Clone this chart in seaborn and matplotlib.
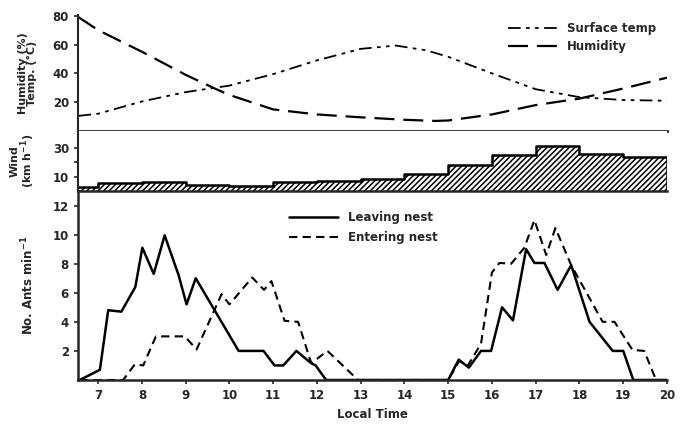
import numpy as np
import pandas as pd
import matplotlib
matplotlib.use("Agg")
import matplotlib.pyplot as plt
import seaborn as sns

# --- data ---
# top panel: surface temperature and humidity vs local time
temp_time = [6.55, 7, 8, 9, 10, 11, 12, 13, 13.8, 14.5, 15, 16, 17, 18, 19, 20]
temp_vals = [10.5, 12, 20.5, 27, 31.5, 39.5, 49, 57, 59.3, 56, 51.5, 40, 29, 23.5, 21.5, 21]
hum_time = [6.55, 7, 8, 9, 9.7, 10, 11, 12, 13, 14, 14.7, 15, 16, 17, 18, 19, 20]
hum_vals = [79, 70, 55, 39, 29, 25, 15, 11.5, 9.5, 7.8, 7, 7.3, 11.5, 18, 22.5, 29.5, 37]

# wind speed, hourly steps (left edge of each step)
wind_edges = [6.54, 7, 8, 9, 10, 11, 12, 13, 14, 15, 16, 17, 18, 19, 20]
wind_vals = [2.5, 5.5, 6.6, 4.3, 3.3, 6.2, 6.9, 8.2, 12.1, 18.1, 25.2, 31.2, 25.7, 24.1]

# ants leaving / entering the nest
leave_time = [6.58, 7.04, 7.23, 7.53, 7.85, 8.01, 8.27, 8.52, 8.84, 9.02, 9.23, 10.21,
              10.78, 11.03, 11.23, 11.53, 11.87, 11.97, 12.21, 15.0, 15.24, 15.47,
              15.75, 15.98, 16.23, 16.48, 16.78, 16.97, 17.2, 17.5, 17.81, 18.23,
              18.76, 19.0, 19.23, 20.0]
leave_vals = [0, 0.7, 4.8, 4.7, 6.4, 9.1, 7.3, 9.95, 7.2, 5.2, 7.0, 2.0,
              2.0, 1.0, 1.0, 2.0, 1.15, 1.0, 0, 0, 1.4, 0.85,
              2.0, 2.0, 5.0, 4.1, 9.0, 8.05, 8.05, 6.2, 7.9, 4.0,
              2.0, 2.0, 0, 0]
enter_time = [6.58, 7.57, 7.84, 8.03, 8.32, 8.98, 9.25, 9.82, 10.0, 10.52, 10.79,
              10.96, 11.26, 11.57, 11.87, 12.24, 12.94, 15.0, 15.25, 15.45, 15.75,
              16.0, 16.17, 16.44, 16.74, 16.97, 17.24, 17.45, 17.81, 18.53, 18.8,
              19.21, 19.48, 19.75, 20.0]
enter_vals = [0, 0, 1.08, 1.0, 3.0, 3.0, 2.1, 5.9, 5.2, 7.05, 6.2,
              6.8, 4.07, 4.0, 1.15, 2.0, 0, 0, 1.3, 1.0, 2.5,
              7.4, 8.05, 8.0, 9.1, 11.0, 8.6, 10.45, 7.9, 4.0, 4.0,
              2.07, 2.0, 0, 0]

sns.set_style("ticks")
plt.rcParams['font.family'] = ['DejaVu Sans']
plt.rcParams['font.weight'] = 'bold'
plt.rcParams['axes.labelweight'] = 'bold'
plt.rcParams['hatch.linewidth'] = 1.1

fig = plt.figure(figsize=(6.82, 4.24), dpi=100)
left, width = 0.1144, 0.8636
ax_top = fig.add_axes([left, 0.691, width, 0.2736])
ax_wind = fig.add_axes([left, 0.5495, width, 0.1415])
ax_ants = fig.add_axes([left, 0.1038, width, 0.4457])
xlim = (6.54, 20.0)
fs = 8.5

# --- top: temperature and humidity ---
sns.lineplot(x=temp_time, y=temp_vals, ax=ax_top, color='black', lw=1.3,
             linestyle=(0, (7, 3, 2, 3, 2, 3)), label='Surface temp')
sns.lineplot(x=hum_time, y=hum_vals, ax=ax_top, color='black', lw=1.6,
             linestyle=(0, (9, 4)), label='Humidity')
ax_top.set_xlim(xlim)
ax_top.set_ylim(0, 80.5)
ax_top.set_yticks([20, 40, 60, 80])
ax_top.set_xticks([])
ax_top.set_ylabel('Humidity (%)\nTemp. (°C)', fontsize=fs - 0.5, linespacing=0.9)
ax_top.yaxis.set_label_coords(-0.07, 0.5)
ax_top.legend(loc='upper right', bbox_to_anchor=(1.0, 1.03), frameon=False,
              handlelength=4.2, fontsize=fs, labelspacing=0.4)
sns.despine(ax=ax_top, top=True, right=True)
ax_top.spines['bottom'].set_linewidth(2.0)
ax_top.spines['left'].set_linewidth(1.5)

# --- middle: wind steps ---
wx = np.array(wind_edges)
wy = np.append(wind_vals, wind_vals[-1])
ax_wind.fill_between(wx, 0, wy, step='post', facecolor='white', edgecolor='black',
                     hatch='//////', linewidth=0)
ax_wind.step(wx, wy, where='post', color='black', lw=1.8)
ax_wind.vlines(wx[-1], 0, wy[-1], color='black', lw=1.8)
ax_wind.set_xlim(xlim)
ax_wind.set_ylim(0, 42)
ax_wind.set_yticks([10, 20, 30])
ax_wind.set_yticklabels(['10', '', '30'])
ax_wind.set_xticks([])
ax_wind.set_ylabel('Wind\n(km h$^{-1}$)', fontsize=fs - 0.5, linespacing=0.9)
ax_wind.yaxis.set_label_coords(-0.07, 0.5)
for s in ['top', 'right', 'bottom']:
    ax_wind.spines[s].set_visible(False)
ax_wind.spines['left'].set_linewidth(1.5)

# --- bottom: ants ---
sns.lineplot(x=leave_time, y=leave_vals, ax=ax_ants, color='black', lw=1.8,
             label='Leaving nest', sort=False)
sns.lineplot(x=enter_time, y=enter_vals, ax=ax_ants, color='black', lw=1.5,
             linestyle=(0, (4, 2.5)), label='Entering nest', sort=False)
ax_ants.set_xlim(xlim)
ax_ants.set_ylim(0, 13)
ax_ants.set_yticks([2, 4, 6, 8, 10, 12])
ax_ants.set_xticks(range(7, 21))
ax_ants.set_xlabel('Local Time', fontsize=fs)
ax_ants.set_ylabel('No. Ants min$^{-1}$', fontsize=fs)
ax_ants.yaxis.set_label_coords(-0.07, 0.5)
ax_ants.legend(loc='upper left', bbox_to_anchor=(0.34, 0.95), frameon=False,
               handlelength=4.2, fontsize=fs, labelspacing=0.6)
ax_ants.spines['right'].set_visible(False)
for s in ['top', 'bottom', 'left']:
    ax_ants.spines[s].set_linewidth(1.8)

for ax in (ax_top, ax_wind, ax_ants):
    ax.tick_params(labelsize=fs, length=3, width=1.2)

fig.savefig('out.png', dpi=100)
